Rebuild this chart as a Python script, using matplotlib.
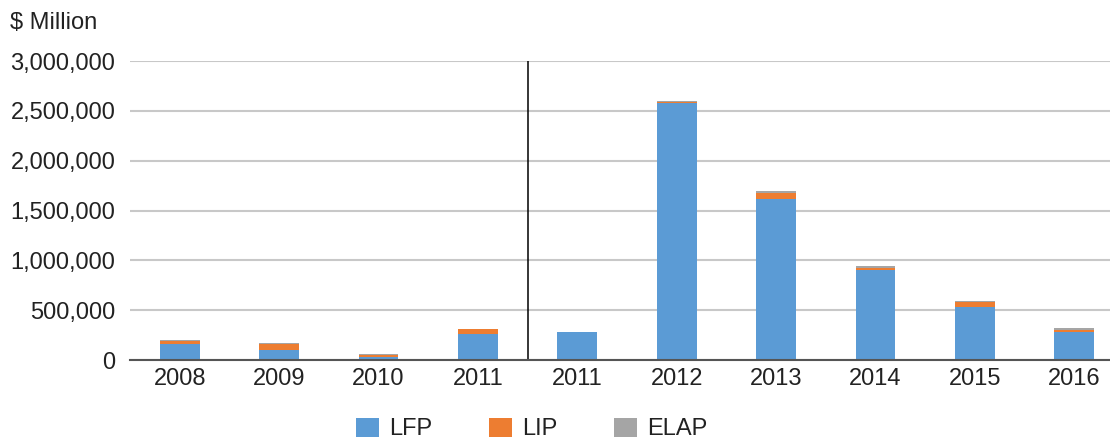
import matplotlib.pyplot as plt
from matplotlib.ticker import FuncFormatter
import numpy as np

plt.rcParams['font.family'] = ['Liberation Sans', 'DejaVu Sans']

# datos ($ Million)
years = ["2008", "2009", "2010", "2011", "2011", "2012", "2013", "2014", "2015", "2016"]
lfp = [161000, 97000, 27000, 265000, 278000, 2576000, 1613000, 903000, 533000, 280000]
lip = [27000, 64000, 20000, 47000, 2000, 14000, 60000, 20000, 47000, 20000]
elap = [13000, 13000, 13000, 3000, 2000, 13000, 20000, 20000, 17000, 22000]

x = np.arange(len(years))
lfp = np.array(lfp)
lip = np.array(lip)
elap = np.array(elap)

fig = plt.figure(figsize=(11.1, 4.4), dpi=100)
ax = fig.add_axes([0.1171, 0.1818, 0.8955, 0.6795])

w = 0.4
ax.bar(x, lfp, w, color="#5B9BD5", label="LFP", zorder=3)
ax.bar(x, lip, w, bottom=lfp, color="#ED7D31", label="LIP", zorder=3)
ax.bar(x, elap, w, bottom=lfp + lip, color="#A5A5A5", label="ELAP", zorder=3)

# linea que separa las dos series de años
ax.plot([3.5, 3.5], [0, 3000000], color="black", lw=1.1, zorder=4)

ax.set_xlim(-0.5, 9.5)
ax.set_ylim(0, 3000000)
ax.set_yticks(np.arange(0, 3000001, 500000))
ax.yaxis.set_major_formatter(FuncFormatter(lambda v, p: f"{int(v):,}"))
ax.set_xticks(x)
ax.set_xticklabels(years)
ax.grid(axis="y", color="#c8c8c8", lw=1.5, zorder=0)
ax.tick_params(axis="both", length=0, labelsize=17, colors="#222222")
ax.tick_params(axis="y", pad=10.5)
ax.tick_params(axis="x", pad=6)
for s in ["top", "right", "left"]:
    ax.spines[s].set_visible(False)
ax.spines["bottom"].set_color("#555555")
ax.spines["bottom"].set_linewidth(1.5)
ax.spines["bottom"].set_zorder(5)

fig.text(0.009, 0.948, "$ Million", fontsize=17, color="#222222", va="center")

fig.legend(loc="center", bbox_to_anchor=(0.479, 0.025), ncol=3, frameon=False,
           fontsize=17, handlelength=0.97, handleheight=0.9, handletextpad=0.42,
           columnspacing=2.4, labelcolor="#222222")

fig.savefig("out.png", dpi=100)
